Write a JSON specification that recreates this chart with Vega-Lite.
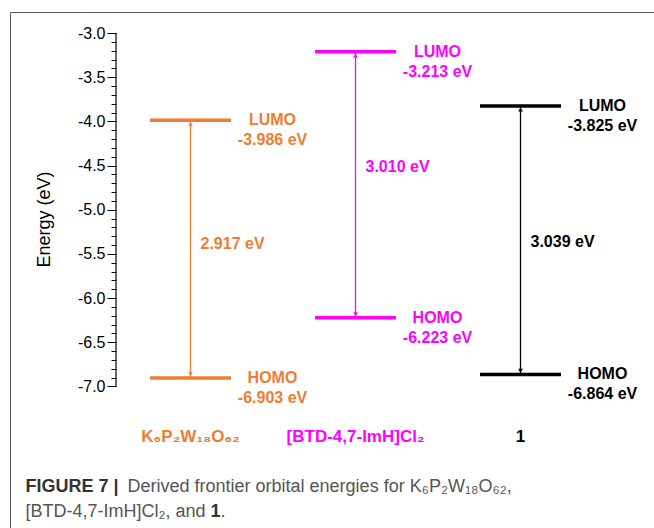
{
  "$schema": "https://vega.github.io/schema/vega-lite/v6.json",
  "width": 660,
  "height": 530,
  "autosize": "none",
  "padding": {"left": 10, "top": 12, "right": 0, "bottom": 0},
  "background": "white",
  "config": {
    "view": {"stroke": "#5a5a5a", "strokeWidth": 1},
    "font": "Liberation Sans"
  },
  "datasets": {
    "compounds": [
      {"compound": "K₆P₂W₁₈O₆₂", "pos": 1, "lumo": -3.986, "homo": -6.903, "gap": "2.917 eV", "gapLabelE": -5.385},
      {"compound": "[BTD-4,7-ImH]Cl₂", "pos": 2, "lumo": -3.213, "homo": -6.223, "gap": "3.010 eV", "gapLabelE": -4.513},
      {"compound": "1", "pos": 3, "lumo": -3.825, "homo": -6.864, "gap": "3.039 eV", "gapLabelE": -5.362}
    ],
    "levels": [
      {"compound": "K₆P₂W₁₈O₆₂", "pos": 1, "orbital": "LUMO", "energy": -3.986, "label": "LUMO\n-3.986 eV"},
      {"compound": "K₆P₂W₁₈O₆₂", "pos": 1, "orbital": "HOMO", "energy": -6.903, "label": "HOMO\n-6.903 eV"},
      {"compound": "[BTD-4,7-ImH]Cl₂", "pos": 2, "orbital": "LUMO", "energy": -3.213, "label": "LUMO\n-3.213 eV"},
      {"compound": "[BTD-4,7-ImH]Cl₂", "pos": 2, "orbital": "HOMO", "energy": -6.223, "label": "HOMO\n-6.223 eV"},
      {"compound": "1", "pos": 3, "orbital": "LUMO", "energy": -3.825, "label": "LUMO\n-3.825 eV"},
      {"compound": "1", "pos": 3, "orbital": "HOMO", "energy": -6.864, "label": "HOMO\n-6.864 eV"}
    ]
  },
  "resolve": {"axis": {"y": "independent"}},
  "layer": [
    {
      "data": {"name": "levels"},
      "mark": {"type": "tick", "orient": "horizontal", "size": 81, "thickness": 3.5, "opacity": 1},
      "encoding": {
        "x": {"field": "pos", "type": "quantitative", "scale": {"domain": [-0.094, 3.906], "nice": false, "zero": false}, "axis": null},
        "y": {
          "field": "energy", "type": "quantitative",
          "scale": {"domain": [-8.76, -2.762], "nice": false, "zero": false},
          "axis": {
            "orient": "left",
            "offset": -106,
            "domain": false,
            "grid": false,
            "values": [-7, -6.5, -6, -5.5, -5, -4.5, -4, -3.5, -3],
            "labelExpr": "(datum.value < 0 ? '-' : '') + format(abs(datum.value), '.1f')",
            "tickSize": 9,
            "tickColor": "black",
            "tickWidth": 1,
            "labelOverlap": false,
            "labelFlush": false,
            "labelBound": false,
            "labelFont": "Liberation Sans",
            "labelFontSize": 16,
            "labelColor": "black",
            "labelPadding": 2,
            "title": "Energy (eV)",
            "titleFont": "Liberation Sans",
            "titleFontSize": 18,
            "titleFontWeight": "normal",
            "titleColor": "black",
            "titleAngle": 270,
            "titleAlign": "center",
            "titleBaseline": "alphabetic",
            "titleX": -67,
            "titleY": 207
          }
        },
        "color": {
          "field": "compound", "type": "nominal",
          "scale": {"domain": ["K₆P₂W₁₈O₆₂", "[BTD-4,7-ImH]Cl₂", "1"], "range": ["#ED7D31", "#FF00FF", "#000000"]},
          "legend": null
        }
      }
    },
    {
      "data": {"values": [{"top": -3, "bottom": -7}]},
      "mark": {"type": "rule", "color": "black", "strokeWidth": 1.2},
      "encoding": {
        "x": {"datum": 0.5485, "type": "quantitative", "axis": null},
        "y": {
          "field": "top", "type": "quantitative",
          "axis": {
            "orient": "left",
            "offset": -106,
            "domain": false,
            "grid": false,
            "values": [-6.9, -6.8, -6.7, -6.6, -6.4, -6.3, -6.2, -6.1, -5.9, -5.8, -5.7, -5.6, -5.4, -5.3, -5.2, -5.1, -4.9, -4.8, -4.7, -4.6, -4.4, -4.3, -4.2, -4.1, -3.9, -3.8, -3.7, -3.6, -3.4, -3.3, -3.2, -3.1],
            "labels": false,
            "tickSize": 5,
            "tickColor": "black",
            "tickWidth": 1,
            "title": null
          }
        },
        "y2": {"field": "bottom"}
      }
    },
    {
      "data": {"name": "levels"},
      "mark": {"type": "text", "align": "center", "baseline": "middle", "xOffset": 82, "fontSize": 16, "fontWeight": "bold", "lineBreak": "\n", "lineHeight": 20, "font": "Liberation Sans"},
      "encoding": {
        "x": {"field": "pos", "type": "quantitative"},
        "y": {"field": "energy", "type": "quantitative", "axis": null},
        "text": {"field": "label"},
        "color": {"field": "compound", "type": "nominal", "legend": null}
      }
    },
    {
      "data": {"name": "compounds"},
      "mark": {"type": "rule", "strokeWidth": 1.3},
      "encoding": {
        "x": {"field": "pos", "type": "quantitative"},
        "y": {"field": "homo", "type": "quantitative", "axis": null},
        "y2": {"field": "lumo"},
        "color": {"field": "compound", "type": "nominal", "legend": null}
      }
    },
    {
      "data": {"name": "compounds"},
      "mark": {"type": "point", "shape": "triangle-up", "filled": true, "size": 22, "opacity": 1, "yOffset": 3.6},
      "encoding": {
        "x": {"field": "pos", "type": "quantitative"},
        "y": {"field": "lumo", "type": "quantitative", "axis": null},
        "color": {"field": "compound", "type": "nominal", "legend": null}
      }
    },
    {
      "data": {"name": "compounds"},
      "mark": {"type": "point", "shape": "triangle-down", "filled": true, "size": 22, "opacity": 1, "yOffset": -3.6},
      "encoding": {
        "x": {"field": "pos", "type": "quantitative"},
        "y": {"field": "homo", "type": "quantitative", "axis": null},
        "color": {"field": "compound", "type": "nominal", "legend": null}
      }
    },
    {
      "data": {"name": "compounds"},
      "mark": {"type": "text", "align": "left", "baseline": "middle", "xOffset": 10, "fontSize": 16, "fontWeight": "bold", "font": "Liberation Sans"},
      "encoding": {
        "x": {"field": "pos", "type": "quantitative"},
        "y": {"field": "gapLabelE", "type": "quantitative", "axis": null},
        "text": {"field": "gap"},
        "color": {"field": "compound", "type": "nominal", "legend": null}
      }
    },
    {
      "data": {"name": "compounds"},
      "mark": {"type": "text", "align": "center", "baseline": "middle", "fontSize": 17, "fontWeight": "bold", "font": "Liberation Sans"},
      "encoding": {
        "x": {"field": "pos", "type": "quantitative"},
        "y": {"datum": -7.569, "type": "quantitative", "axis": null},
        "text": {"field": "compound"},
        "color": {"field": "compound", "type": "nominal", "legend": null}
      }
    },
    {
      "data": {"values": [{"t": "FIGURE 7 |"}]},
      "mark": {"type": "text", "align": "left", "baseline": "middle", "fontSize": 18, "fontWeight": "bold", "color": "#333333", "font": "Liberation Sans"},
      "encoding": {
        "x": {"datum": 0, "type": "quantitative"},
        "y": {"datum": -8.135, "type": "quantitative", "axis": null},
        "text": {"field": "t"}
      }
    },
    {
      "data": {"values": [{"t": "Derived frontier orbital energies for K₆P₂W₁₈O₆₂,"}]},
      "mark": {"type": "text", "align": "left", "baseline": "middle", "fontSize": 18, "fontWeight": "normal", "color": "#555555", "dx": 102, "font": "Liberation Sans"},
      "encoding": {
        "x": {"datum": 0, "type": "quantitative"},
        "y": {"datum": -8.135, "type": "quantitative", "axis": null},
        "text": {"field": "t"}
      }
    },
    {
      "data": {"values": [{"t": "[BTD-4,7-ImH]Cl₂, and"}]},
      "mark": {"type": "text", "align": "left", "baseline": "middle", "fontSize": 18, "fontWeight": "normal", "color": "#555555", "font": "Liberation Sans"},
      "encoding": {
        "x": {"datum": 0, "type": "quantitative"},
        "y": {"datum": -8.415, "type": "quantitative", "axis": null},
        "text": {"field": "t"}
      }
    },
    {
      "data": {"values": [{"t": "1"}]},
      "mark": {"type": "text", "align": "left", "baseline": "middle", "fontSize": 18, "fontWeight": "bold", "color": "#333333", "dx": 185, "font": "Liberation Sans"},
      "encoding": {
        "x": {"datum": 0, "type": "quantitative"},
        "y": {"datum": -8.415, "type": "quantitative", "axis": null},
        "text": {"field": "t"}
      }
    },
    {
      "data": {"values": [{"t": "."}]},
      "mark": {"type": "text", "align": "left", "baseline": "middle", "fontSize": 18, "fontWeight": "normal", "color": "#555555", "dx": 195, "font": "Liberation Sans"},
      "encoding": {
        "x": {"datum": 0, "type": "quantitative"},
        "y": {"datum": -8.415, "type": "quantitative", "axis": null},
        "text": {"field": "t"}
      }
    }
  ]
}
